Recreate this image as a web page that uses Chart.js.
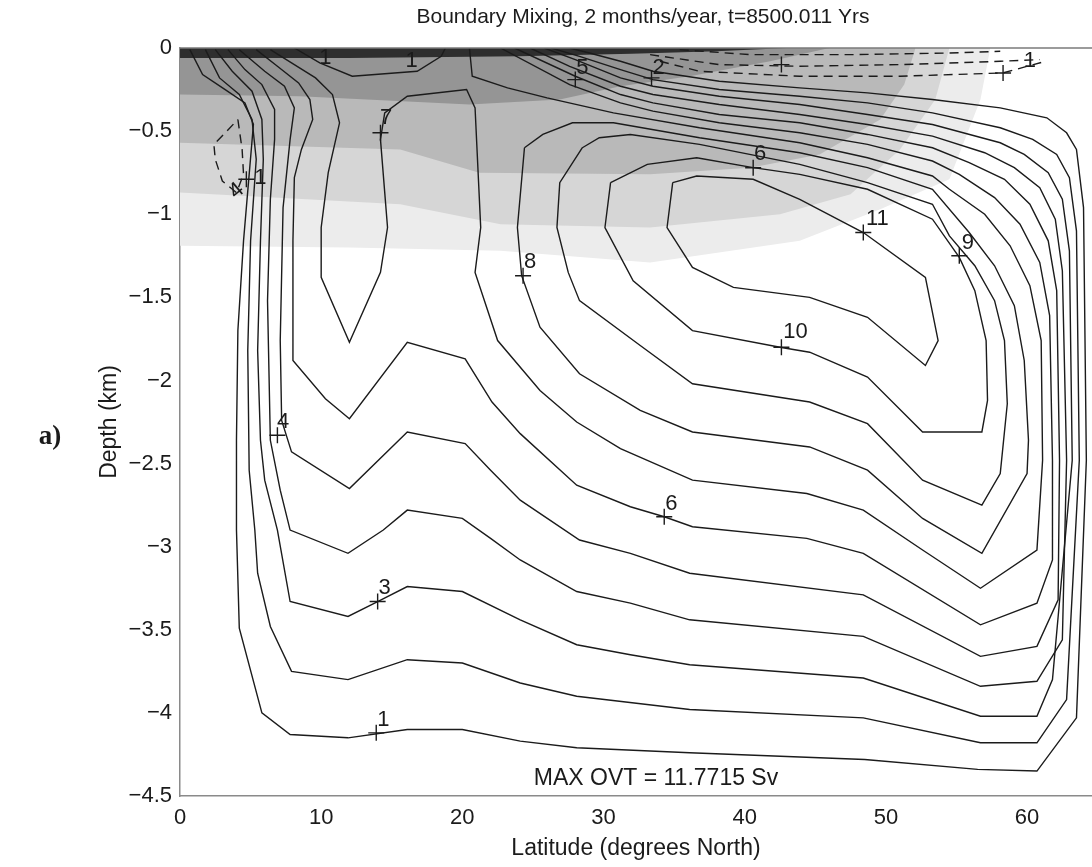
<!DOCTYPE html>
<html>
<head>
<meta charset="utf-8">
<script src="https://cdn.jsdelivr.net/npm/chart.js@4.4.0/dist/chart.umd.min.js"></script>
<style>
  html, body { margin: 0; padding: 0; background: #fff; }
  #wrap { width: 1092px; height: 867px; }
</style>
</head>
<body>
<div id="wrap"><canvas id="ovtChart" width="1092" height="867"></canvas></div>
<script>
// axis ticks
const latTicks = [0, 10, 20, 30, 40, 50, 60];
const depthTicks = [0, -0.5, -1, -1.5, -2, -2.5, -3, -3.5, -4, -4.5];

// overturning streamfunction contours, [latitude, depth km]
const psi1 = [[0.7,-0.01],[1.6,-0.16],[3.2,-0.25],[4.6,-0.33],[5.2,-0.46],[4.9,-0.76],[4.5,-1.16],[4.1,-1.70],[4.0,-2.36],[4.0,-2.90],[4.2,-3.49],[5.8,-4.00],[7.8,-4.13],[11.9,-4.15],[16.1,-4.10],[20.0,-4.10],[24.1,-4.17],[28.1,-4.21],[36.1,-4.24],[48.5,-4.28],[56.5,-4.34],[60.7,-4.35],[63.5,-4.03],[64.2,-2.48],[64.0,-0.96],[63.5,-0.61],[62.8,-0.51],[61.4,-0.42],[58.1,-0.36],[53.3,-0.31],[48.7,-0.27],[43.9,-0.24],[38.2,-0.20],[33.5,-0.14],[31.2,-0.08],[29.0,-0.03],[27.6,0]];
const psi2 = [[1.8,-0.01],[2.8,-0.18],[4.2,-0.28],[5.1,-0.43],[5.4,-0.67],[5.0,-1.16],[4.8,-1.82],[4.9,-2.54],[5.3,-2.90],[5.5,-3.16],[6.4,-3.48],[7.9,-3.75],[11.9,-3.80],[16.1,-3.68],[20.0,-3.70],[24.1,-3.82],[28.1,-3.90],[36.1,-3.98],[48.4,-4.03],[56.7,-4.18],[60.7,-4.18],[62.8,-3.92],[63.7,-2.48],[63.5,-1.10],[63.0,-0.78],[62.1,-0.64],[60.4,-0.55],[58.1,-0.48],[53.3,-0.39],[48.7,-0.33],[43.9,-0.29],[38.2,-0.25],[33.5,-0.19],[31.2,-0.13],[28.3,-0.05],[26.3,0]];
const psi3 = [[2.5,-0.01],[3.7,-0.14],[5.1,-0.26],[5.8,-0.43],[5.9,-0.67],[5.7,-1.16],[5.5,-1.82],[5.7,-2.36],[6.0,-2.60],[6.9,-2.90],[7.8,-3.33],[11.9,-3.42],[14.0,-3.33],[16.1,-3.24],[20.0,-3.27],[24.1,-3.44],[28.1,-3.59],[31.9,-3.65],[36.1,-3.71],[48.4,-3.79],[56.7,-4.02],[60.7,-4.02],[61.8,-3.80],[63.2,-2.48],[63.0,-1.22],[62.5,-0.91],[61.5,-0.75],[59.8,-0.64],[58.1,-0.57],[53.3,-0.46],[48.7,-0.40],[43.9,-0.34],[38.2,-0.29],[33.5,-0.23],[31.2,-0.18],[28.0,-0.07],[25.8,0]];
const psi4 = [[3.4,-0.01],[4.6,-0.13],[5.8,-0.22],[6.7,-0.37],[6.7,-0.55],[6.4,-0.91],[6.2,-1.52],[6.4,-2.36],[7.1,-2.66],[7.8,-2.90],[11.9,-3.04],[14.4,-2.90],[16.1,-2.78],[20.0,-2.83],[22.0,-2.95],[24.1,-3.08],[28.1,-3.27],[31.9,-3.34],[36.1,-3.44],[48.4,-3.54],[56.7,-3.84],[60.7,-3.81],[62.5,-3.56],[62.8,-2.48],[62.5,-1.34],[62.0,-1.03],[60.9,-0.84],[59.1,-0.72],[57.0,-0.63],[53.3,-0.53],[48.7,-0.46],[43.9,-0.40],[38.2,-0.34],[33.5,-0.28],[31.2,-0.23],[27.6,-0.11],[24.8,0]];
const psi5 = [[4.2,-0.01],[6.0,-0.14],[7.4,-0.23],[8.1,-0.36],[7.8,-0.55],[7.3,-0.96],[7.1,-1.76],[7.2,-2.24],[7.9,-2.43],[12.0,-2.65],[16.1,-2.31],[20.2,-2.38],[22.0,-2.54],[24.1,-2.72],[28.3,-2.96],[31.9,-3.04],[36.1,-3.16],[48.4,-3.29],[56.7,-3.66],[60.7,-3.60],[62.2,-3.32],[62.3,-2.48],[62.1,-1.46],[61.5,-1.16],[60.2,-0.94],[58.4,-0.79],[55.9,-0.69],[53.3,-0.60],[48.7,-0.52],[43.9,-0.45],[38.2,-0.40],[33.5,-0.33],[31.2,-0.28],[28.0,-0.17],[23.7,0]];
const psi6 = [[5.4,-0.01],[6.9,-0.11],[8.4,-0.21],[9.2,-0.31],[9.4,-0.43],[8.6,-0.61],[8.1,-0.78],[8.0,-1.16],[8.0,-1.88],[10.3,-2.11],[12.0,-2.23],[16.1,-1.77],[20.2,-1.87],[22.1,-2.13],[24.1,-2.32],[28.1,-2.63],[31.9,-2.76],[34.3,-2.82],[36.3,-2.88],[44.4,-2.95],[48.4,-3.04],[56.7,-3.47],[60.7,-3.34],[61.8,-3.08],[61.8,-2.48],[61.6,-1.61],[60.9,-1.29],[59.5,-1.06],[57.7,-0.90],[55.2,-0.76],[53.3,-0.68],[48.7,-0.58],[43.9,-0.51],[38.2,-0.45],[33.5,-0.38],[31.2,-0.33],[27.6,-0.22],[22.7,0]];
const psi7 = [[6.4,-0.01],[7.9,-0.09],[9.6,-0.18],[10.8,-0.28],[11.3,-0.45],[10.5,-0.75],[10.0,-1.08],[10.0,-1.38],[12.0,-1.77],[14.2,-1.35],[14.7,-1.08],[14.2,-0.55],[14.5,-0.39],[16.1,-0.29],[20.3,-0.25],[20.9,-0.36],[21.3,-1.08],[20.9,-1.35],[22.5,-1.76],[25.5,-2.06],[28.1,-2.25],[31.2,-2.41],[36.3,-2.60],[44.4,-2.68],[48.4,-2.78],[52.6,-3.02],[56.7,-3.25],[60.7,-3.02],[61.1,-2.48],[61.0,-1.76],[60.2,-1.43],[58.8,-1.19],[57.0,-1.00],[54.5,-0.85],[53.3,-0.77],[48.7,-0.66],[43.9,-0.57],[36.8,-0.48],[30.7,-0.39],[26.0,-0.30],[23.2,-0.24],[20.7,-0.17],[20.5,0]];
const psi8 = [[24.4,-0.60],[23.9,-1.08],[24.2,-1.37],[25.5,-1.68],[28.3,-1.96],[32.6,-2.18],[36.3,-2.31],[44.6,-2.40],[48.7,-2.54],[52.6,-2.83],[56.8,-3.04],[60.0,-2.56],[60.1,-2.36],[59.8,-1.88],[59.1,-1.55],[57.7,-1.31],[55.9,-1.11],[53.3,-0.85],[48.7,-0.72],[43.9,-0.63],[36.8,-0.54],[30.7,-0.45],[27.8,-0.45],[25.7,-0.52],[24.4,-0.60]];
const psi9 = [[28.5,-0.60],[26.9,-0.81],[26.7,-1.08],[27.5,-1.35],[28.3,-1.52],[32.6,-1.79],[36.3,-2.02],[44.6,-2.13],[48.7,-2.26],[52.6,-2.60],[56.8,-2.75],[58.1,-2.56],[58.6,-2.14],[58.4,-1.76],[57.7,-1.52],[56.3,-1.31],[54.5,-1.13],[53.3,-0.94],[48.7,-0.81],[43.9,-0.70],[36.8,-0.58],[31.9,-0.52],[29.7,-0.54],[28.5,-0.60]];
const psi10 = [[30.5,-0.81],[30.1,-1.08],[32.1,-1.40],[36.3,-1.70],[42.5,-1.80],[44.6,-1.83],[48.7,-1.98],[52.6,-2.31],[56.8,-2.31],[57.2,-2.12],[57.1,-1.76],[56.3,-1.46],[55.2,-1.26],[53.3,-1.03],[48.7,-0.85],[43.9,-0.76],[40.6,-0.72],[36.6,-0.66],[33.1,-0.70],[30.5,-0.81]];
const psi11 = [[34.9,-0.81],[36.6,-0.77],[40.6,-0.79],[43.9,-0.91],[48.4,-1.11],[52.8,-1.38],[53.7,-1.76],[52.8,-1.91],[48.7,-1.62],[44.6,-1.50],[39.2,-1.44],[36.3,-1.32],[34.5,-1.08],[34.9,-0.81]];
const capTop = [[8.1,0],[9.9,-0.09],[12.2,-0.17],[16.8,-0.14],[18.5,-0.05],[18.8,0]];

// negative (dashed) contours
const westNeg = [[4.1,-0.43],[4.4,-0.61],[4.5,-0.76],[4.0,-0.87],[3.0,-0.80],[2.5,-0.67],[2.4,-0.58],[3.2,-0.51],[4.1,-0.43]];
const topNeg1 = [[34.0,-0.08],[36.8,-0.14],[43.9,-0.17],[51.0,-0.17],[58.3,-0.15],[61.3,-0.08]];
const topNeg2 = [[33.3,-0.04],[38.2,-0.10],[43.9,-0.11],[51.0,-0.10],[58.1,-0.08],[60.9,-0.07]];
const topNeg3 = [[35.4,-0.01],[40.4,-0.04],[47.5,-0.04],[54.5,-0.03],[58.1,-0.02]];

// lower edges of the grey shading bands (filled up to the surface)
const shadeSurface = [[0,-0.06],[12,-0.06],[24,-0.05],[32,-0.035],[38,-0.02],[43,0]];
const shadeDark = [[0,-0.28],[8.5,-0.29],[20.5,-0.34],[26.9,-0.31],[31.2,-0.23],[36.1,-0.17],[41.8,-0.08],[46.0,0]];
const shadeMid = [[0,-0.57],[15.6,-0.61],[21.2,-0.75],[33.3,-0.76],[40.4,-0.72],[45.3,-0.64],[49.6,-0.43],[51.3,-0.22],[52.1,0]];
const shadeLight = [[0,-0.87],[15.6,-0.94],[22.7,-1.06],[33.3,-1.08],[42.5,-1.00],[47.5,-0.88],[51.0,-0.61],[53.5,-0.31],[54.5,0]];
const shadePale = [[0,-1.19],[12.0,-1.20],[22.7,-1.22],[33.3,-1.29],[43.9,-1.16],[49.6,-0.97],[54.5,-0.79],[56.7,-0.31],[57.4,0]];

// contour labels and their "+" marks
const contourLabels = [['1',14.4,-4.04],['3',14.5,-3.25],['4',7.3,-2.25],['6',34.8,-2.74],['10',43.6,-1.71],['8',24.8,-1.29],['6',41.1,-0.64],['11',49.4,-1.03],['9',55.8,-1.17],['7',14.6,-0.42],['5',28.5,-0.12],['2',33.9,-0.12],['1',5.7,-0.78],['1',60.2,-0.08],['1',10.3,-0.06],['1',16.4,-0.08]];
const plusMarks = [[13.9,-4.12],[14.0,-3.33],[6.9,-2.33],[34.3,-2.82],[42.6,-1.80],[24.3,-1.37],[40.6,-0.72],[48.4,-1.11],[55.2,-1.25],[14.2,-0.51],[28.0,-0.19],[33.4,-0.18],[4.7,-0.79],[58.3,-0.15],[42.6,-0.10]];

const maxOvt = 11.7715;

const FONT = '"Liberation Sans", Arial, Helvetica, sans-serif';
const INK = '#1b1b1b';

function contour(data) {
  return { data, showLine: true, borderColor: INK, borderWidth: 1.4, pointRadius: 0, tension: 0, fill: false };
}
function dashed(data) {
  return { data, showLine: true, borderColor: INK, borderWidth: 1.4, borderDash: [9, 6], pointRadius: 0, tension: 0, fill: false };
}
function band(data, color) {
  return { data, showLine: true, borderWidth: 0, borderColor: color, backgroundColor: color, pointRadius: 0, tension: 0, fill: 'origin' };
}

const figText = {
  id: 'figText',
  afterDatasetsDraw(chart) {
    const { ctx, chartArea, scales: { x, y } } = chart;
    ctx.save();
    ctx.fillStyle = INK;
    ctx.font = '22px ' + FONT;
    ctx.textAlign = 'center';
    ctx.textBaseline = 'middle';
    contourLabels.forEach(([t, la, d]) => {
      ctx.fillText(t, x.getPixelForValue(la), y.getPixelForValue(d));
    });
    // rotated label on the western dashed loop
    ctx.save();
    ctx.translate(x.getPixelForValue(4.0), y.getPixelForValue(-0.86));
    ctx.rotate(-0.7);
    ctx.fillText('4', 0, 0);
    ctx.restore();
    ctx.font = '23px ' + FONT;
    ctx.fillText('MAX OVT = ' + maxOvt + ' Sv', 656, chartArea.bottom - 17);
    ctx.restore();
  },
  afterDraw(chart) {
    const { ctx, chartArea } = chart;
    ctx.save();
    ctx.strokeStyle = '#7a7a7a';
    ctx.lineWidth = 1.5;
    ctx.beginPath();
    ctx.moveTo(chartArea.left, chartArea.top);
    ctx.lineTo(chartArea.right, chartArea.top);
    ctx.stroke();
    ctx.fillStyle = INK;
    ctx.textAlign = 'center';
    ctx.textBaseline = 'middle';
    ctx.font = '21px ' + FONT;
    ctx.fillText('Boundary Mixing, 2 months/year, t=8500.011 Yrs', 643, 17);
    ctx.font = 'bold 27px "Liberation Serif", "Times New Roman", serif';
    ctx.fillText('a)', 50, 437);
    ctx.restore();
  }
};

document.addEventListener('DOMContentLoaded', () => {
  const ctx = document.getElementById('ovtChart').getContext('2d');
  new Chart(ctx, {
    type: 'scatter',
    data: {
      datasets: [
        { data: plusMarks, showLine: false, pointStyle: 'cross', pointRadius: 8, borderWidth: 1.4, borderColor: INK, backgroundColor: INK },
        contour(psi1), contour(psi2), contour(psi3), contour(psi4), contour(psi5), contour(psi6),
        contour(psi7), contour(psi8), contour(psi9), contour(psi10), contour(psi11), contour(capTop),
        dashed(westNeg), dashed(topNeg1), dashed(topNeg2), dashed(topNeg3),
        band(shadeSurface, '#2e2e2e'),
        band(shadeDark, '#959595'),
        band(shadeMid, '#b9b9b9'),
        band(shadeLight, '#d6d6d6'),
        band(shadePale, '#ececec')
      ]
    },
    options: {
      responsive: false,
      animation: false,
      events: [],
      layout: { autoPadding: false, padding: { top: 48, right: 0, left: 0, bottom: 0 } },
      plugins: { legend: { display: false }, tooltip: { enabled: false }, title: { display: false } },
      scales: {
        x: {
          type: 'linear', min: 0, max: 64.6,
          afterBuildTicks: s => { s.ticks = latTicks.map(v => ({ value: v })); },
          afterFit: s => { s.height = 71; },
          grid: { display: false, drawTicks: false },
          border: { display: true, color: '#8a8a8a', width: 1.5 },
          ticks: { font: { family: FONT, size: 22 }, color: INK, padding: 9, maxRotation: 0 },
          title: { display: true, text: 'Latitude (degrees North)', font: { family: FONT, size: 23 }, color: INK, padding: { top: 0, bottom: 5 } }
        },
        y: {
          type: 'linear', min: -4.5, max: 0,
          afterBuildTicks: s => { s.ticks = depthTicks.map(v => ({ value: v })); },
          afterFit: s => { s.width = 180; },
          grid: { display: false, drawTicks: false },
          border: { display: true, color: '#8a8a8a', width: 1.5 },
          ticks: {
            font: { family: FONT, size: 22 }, color: INK, padding: 8,
            callback: v => v === 0 ? '0' : '\u2212' + Math.abs(v)
          },
          title: { display: true, text: 'Depth (km)', font: { family: FONT, size: 23 }, color: INK, padding: { top: 96, bottom: 0 } }
        }
      }
    },
    plugins: [figText]
  });
});
</script>
</body>
</html>
